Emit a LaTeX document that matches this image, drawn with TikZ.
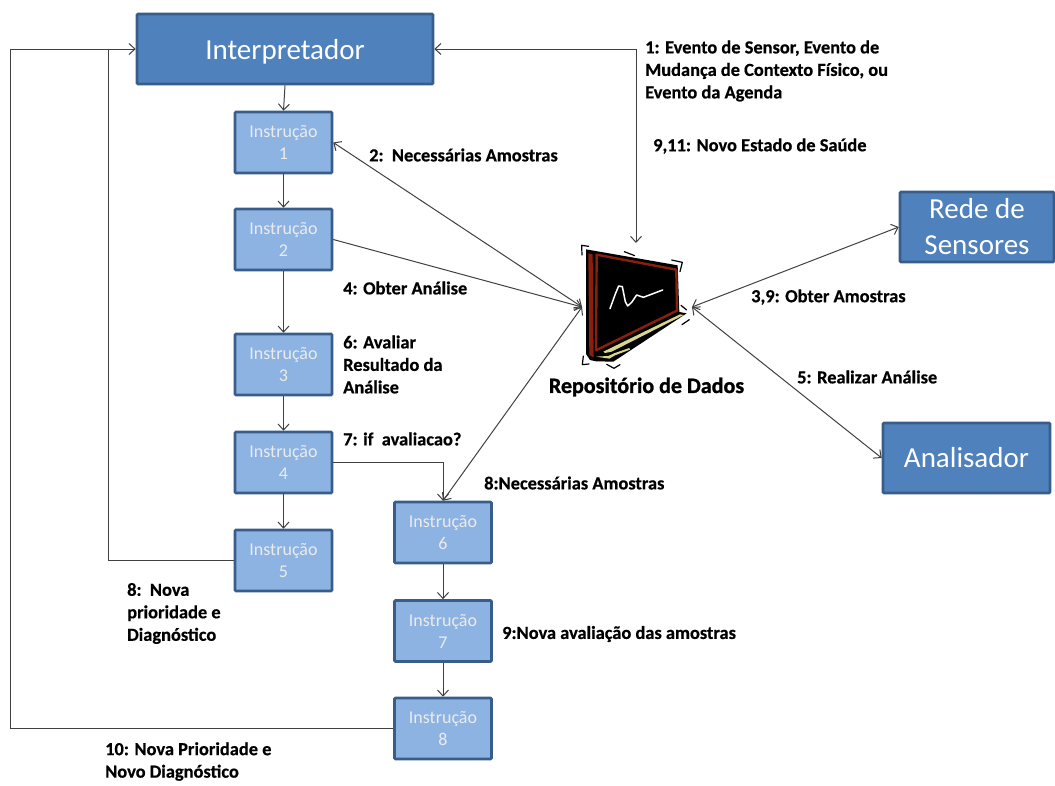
\documentclass[tikz,border=0pt]{standalone}
\usepackage{fontspec}
\setmainfont{Carlito}
\newfontfamily\heavyfont[BoldFeatures={FakeBold=0.5}]{Carlito}
\newfontfamily\repofont[BoldFeatures={FakeBold=1.2}]{Carlito}
\usetikzlibrary{arrows.meta}
\definecolor{bigfill}{HTML}{4F81BD}
\definecolor{bigline}{HTML}{385D8A}
\definecolor{smallfill}{HTML}{8DB3E2}
\definecolor{boardred}{HTML}{8A1F0E}
\definecolor{traycol}{HTML}{D8D68C}
\tikzset{
 bigbox/.style={draw=bigline,fill=bigfill,line width=2.6pt,rounded corners=1pt,inner sep=0pt,text=white,font=\fontsize{29}{36}\selectfont,align=center},
 instbox/.style={draw=bigline,fill=smallfill,line width=2.6pt,rounded corners=1pt,inner sep=0pt,text=white!92!black,font=\fontsize{18}{30}\selectfont,align=center,minimum width=97pt,minimum height=61pt},
 lab/.style={anchor=west,inner sep=0pt,align=left,font=\heavyfont\fontsize{18.4}{22.5}\selectfont\bfseries},
 conn/.style={draw=black!75,line width=1pt,>={Straight Barb[length=6pt,width=11pt]}}
}
\begin{document}
\begin{tikzpicture}[x=1pt,y=-1pt]
\useasboundingbox (0,0) rectangle (1055,785);
\node[bigbox,minimum width=296pt,minimum height=70pt] (interp) at (285,49) {\raisebox{-3pt}[\height][\depth]{Interpretador}};
\node[bigbox,minimum width=154pt,minimum height=70pt] (rede) at (977,227) {Rede de\\Sensores};
\node[bigbox,minimum width=167pt,minimum height=70pt] (anal) at (966.5,458) {Analisador};
\node[instbox] (i1) at (283.5,142.5) {Instrução\\[-8pt]1};
\node[instbox] (i2) at (283.5,239.5) {Instrução\\[-8pt]2};
\node[instbox] (i3) at (283.5,364.5) {Instrução\\[-8pt]3};
\node[instbox] (i4) at (283.5,462.5) {Instrução\\[-8pt]4};
\node[instbox] (i5) at (283.5,560.5) {Instrução\\[-8pt]5};
\node[instbox] (i6) at (443,532.5) {Instrução\\[-8pt]6};
\node[instbox] (i7) at (443,631) {Instrução\\[-8pt]7};
\node[instbox] (i8) at (443,728.5) {Instrução\\[-8pt]8};
% blackboard
\begin{scope}[shift={(540,220)},x=0.3333pt,y=-0.3333pt]
 \fill[black,line join=round] (138,88) -- (413,136) -- (418,276) -- (440,280) -- (220,425) -- (168,424) -- (150,420) -- (138,402) -- cycle;
 \fill[boardred] (145,100) -- (158,103) -- (161,412) -- (148,405) -- cycle;
 \draw[boardred,line width=2.4pt,line join=round] (170,104) -- (409,149) -- (411,272) -- (168,391) -- cycle;
 \fill[traycol] (190,395) -- (420,283) -- (431,285) -- (215,395) -- (195,399) -- cycle;
 \fill[traycol] (168,410) -- (208,416) -- (225,406) -- (270,389) -- (268,384) -- (222,400) -- (205,408) -- cycle;
 \draw[white,line width=1.5pt,line cap=round,line join=round] (210,266) -- (226,222) -- (236,198) -- (247,200) -- (256,245) -- (263,258) -- (275,247) -- (290,225) -- (310,232) -- (368,210);
 \draw[black,line width=1.2pt,line cap=round,line join=round] (126,105) -- (125,76) -- (146,79);
 \draw[black,line width=1.2pt,line cap=round] (253,95) -- (284,107);
 \draw[black,line width=1.2pt,line cap=round,line join=round] (395,120) -- (427,127) -- (420,155);
 \draw[black,line width=1.2pt,line cap=round] (423,256) -- (440,270);
 \draw[black,line width=1.2pt,line cap=round] (426,314) -- (448,299);
 \draw[black,line width=1.2pt,line cap=round,line join=round] (130,408) -- (127,434) -- (147,432);
 \draw[black,line width=1.2pt,line cap=round,line join=round] (200,433) -- (222,445) -- (240,434);
\end{scope}
\node[inner sep=0pt,font=\repofont\fontsize{22}{24}\selectfont\bfseries] (repo) at (646.5,387) {Repositório de Dados};
\coordinate (repoL) at (582,307);
\coordinate (repoR) at (692,307);
\coordinate (repoT) at (636,243);
\coordinate (mergeA) at (108,49);
\coordinate (mergeB) at (10,49);
% connectors
\draw[conn,->] (interp.south) -- (i1.north);
\draw[conn,->] (i1) -- (i2);
\draw[conn,->] (i2) -- (i3);
\draw[conn,->] (i3) -- (i4);
\draw[conn,->] (i4) -- (i5);
\draw[conn,->] (i6) -- (i7);
\draw[conn,->] (i7) -- (i8);
\draw[conn,<->] (i1.east) -- (repoL);
\draw[conn,->] (i2.east) -- (repoL);
\draw[conn,->] (i4.east) -| (i6.north);
\draw[conn,<->] (i6.north) -- (repoL);
\draw[conn] (i5.west) -- (108,560.5) -- (mergeA);
\draw[conn,->] (i8.west) -- (10,728.5) -- (mergeB) -- (interp.west);
\draw[conn,<->] (interp.east) -- (636,49) -- (repoT);
\draw[conn,<->] (rede.west) -- (repoR);
\draw[conn,<->] (anal.west) -- (repoR);
% labels
\node[lab] (l1) at (645,71) {1: Evento de Sensor, Evento de\\Mudança de Contexto Físico, ou\\Evento da Agenda};
\node[lab] (l2) at (653,146) {9,11: Novo Estado de Saúde};
\node[lab] (l3) at (369,155) {2:\ \ Necessárias Amostras};
\node[lab] (l4) at (343,288) {4: Obter Análise};
\node[lab] (l5) at (343,364.5) {6: Avaliar\\Resultado da\\Análise};
\node[lab] (l6) at (343,439) {7: if\ \ avaliacao?};
\node[lab] (l7) at (484,483) {8:Necessárias Amostras};
\node[lab] (l8) at (127,613.5) {8:\ \ Nova\\prioridade e\\Diagnóstico};
\node[lab] (l9) at (502,634) {9:Nova avaliação das amostras};
\node[lab] (l10) at (105,761.5) {10: Nova Prioridade e\\Novo Diagnóstico};
\node[lab] (l11) at (751,297) {3,9: Obter Amostras};
\node[lab] (l12) at (797,377) {5: Realizar Análise};
\end{tikzpicture}
\end{document}
